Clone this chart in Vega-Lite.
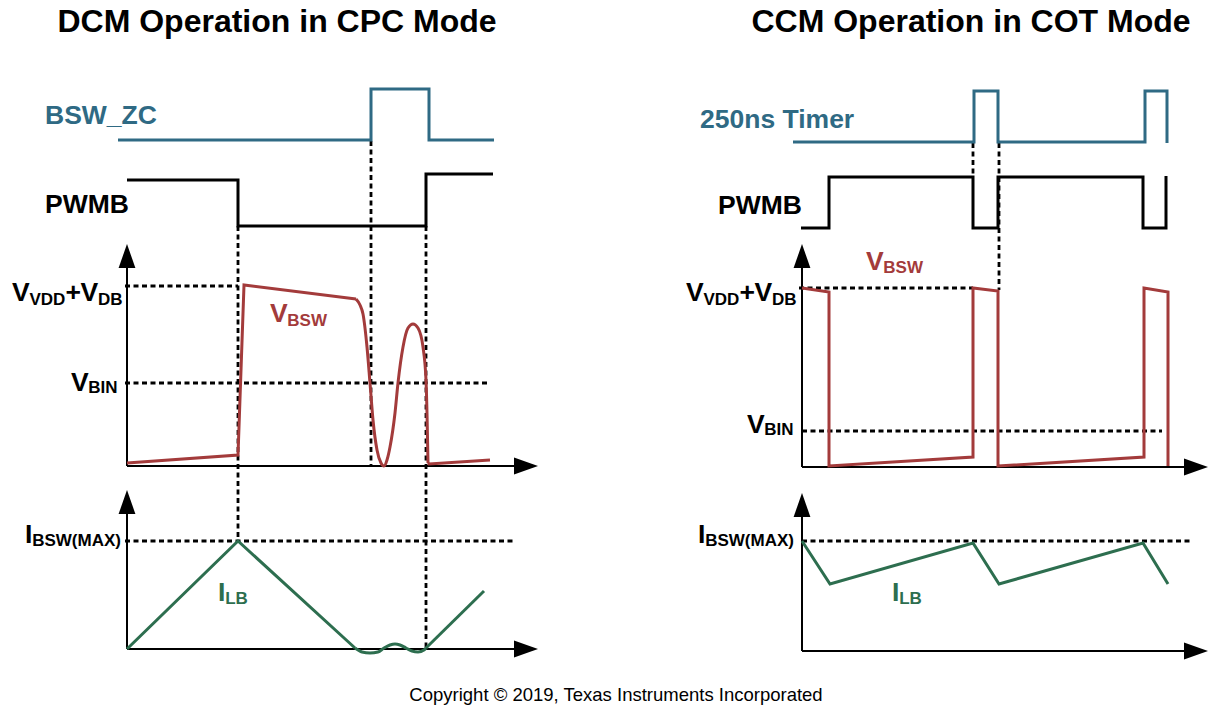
{
  "$schema": "https://vega.github.io/schema/vega-lite/v6.json",
  "width": 1221,
  "height": 706,
  "autosize": {"type": "fit", "contains": "padding"},
  "padding": 0,
  "background": "white",
  "config": {"view": {"stroke": null}},
  "datasets": {
    "wave": [
      {"id": "c1", "k": "clock", "o": 1, "x": 118, "y": 140},
      {"id": "c1", "k": "clock", "o": 2, "x": 371, "y": 140},
      {"id": "c1", "k": "clock", "o": 3, "x": 371, "y": 89},
      {"id": "c1", "k": "clock", "o": 4, "x": 429, "y": 89},
      {"id": "c1", "k": "clock", "o": 5, "x": 429, "y": 140},
      {"id": "c1", "k": "clock", "o": 6, "x": 494, "y": 140},
      {"id": "p1", "k": "pwm", "o": 1, "x": 127, "y": 180},
      {"id": "p1", "k": "pwm", "o": 2, "x": 238, "y": 180},
      {"id": "p1", "k": "pwm", "o": 3, "x": 238, "y": 226},
      {"id": "p1", "k": "pwm", "o": 4, "x": 426, "y": 226},
      {"id": "p1", "k": "pwm", "o": 5, "x": 426, "y": 174},
      {"id": "p1", "k": "pwm", "o": 6, "x": 493, "y": 174},
      {"id": "v1", "k": "vbsw", "o": 1, "x": 127, "y": 463},
      {"id": "v1", "k": "vbsw", "o": 2, "x": 238, "y": 455},
      {"id": "v1", "k": "vbsw", "o": 3, "x": 244, "y": 285},
      {"id": "v1", "k": "vbsw", "o": 4, "x": 356, "y": 299},
      {"id": "v1b", "k": "vbsw", "o": 1, "x": 428, "y": 463},
      {"id": "v1b", "k": "vbsw", "o": 2, "x": 429, "y": 464},
      {"id": "v1b", "k": "vbsw", "o": 3, "x": 490, "y": 460},
      {"id": "g1", "k": "ilb", "o": 1, "x": 127, "y": 649},
      {"id": "g1", "k": "ilb", "o": 2, "x": 238, "y": 541},
      {"id": "g1", "k": "ilb", "o": 3, "x": 355, "y": 648},
      {"id": "g1b", "k": "ilb", "o": 1, "x": 426, "y": 648},
      {"id": "g1b", "k": "ilb", "o": 2, "x": 484, "y": 591},
      {"id": "c2", "k": "clock", "o": 1, "x": 793, "y": 142},
      {"id": "c2", "k": "clock", "o": 2, "x": 974, "y": 142},
      {"id": "c2", "k": "clock", "o": 3, "x": 974, "y": 91},
      {"id": "c2", "k": "clock", "o": 4, "x": 998, "y": 91},
      {"id": "c2", "k": "clock", "o": 5, "x": 998, "y": 142},
      {"id": "c2", "k": "clock", "o": 6, "x": 1145, "y": 142},
      {"id": "c2", "k": "clock", "o": 7, "x": 1145, "y": 91},
      {"id": "c2", "k": "clock", "o": 8, "x": 1167, "y": 91},
      {"id": "c2", "k": "clock", "o": 9, "x": 1167, "y": 143},
      {"id": "p2", "k": "pwm", "o": 1, "x": 801, "y": 228},
      {"id": "p2", "k": "pwm", "o": 2, "x": 829, "y": 228},
      {"id": "p2", "k": "pwm", "o": 3, "x": 829, "y": 177},
      {"id": "p2", "k": "pwm", "o": 4, "x": 973, "y": 177},
      {"id": "p2", "k": "pwm", "o": 5, "x": 973, "y": 228},
      {"id": "p2", "k": "pwm", "o": 6, "x": 998, "y": 228},
      {"id": "p2", "k": "pwm", "o": 7, "x": 998, "y": 177},
      {"id": "p2", "k": "pwm", "o": 8, "x": 1143, "y": 177},
      {"id": "p2", "k": "pwm", "o": 9, "x": 1143, "y": 228},
      {"id": "p2", "k": "pwm", "o": 10, "x": 1166, "y": 228},
      {"id": "p2", "k": "pwm", "o": 11, "x": 1166, "y": 176},
      {"id": "v2", "k": "vbsw", "o": 1, "x": 802, "y": 288},
      {"id": "v2", "k": "vbsw", "o": 2, "x": 829, "y": 292},
      {"id": "v2", "k": "vbsw", "o": 3, "x": 829, "y": 466},
      {"id": "v2", "k": "vbsw", "o": 4, "x": 973, "y": 457},
      {"id": "v2", "k": "vbsw", "o": 5, "x": 973, "y": 288},
      {"id": "v2", "k": "vbsw", "o": 6, "x": 998, "y": 291},
      {"id": "v2", "k": "vbsw", "o": 7, "x": 998, "y": 466},
      {"id": "v2", "k": "vbsw", "o": 8, "x": 1144, "y": 457},
      {"id": "v2", "k": "vbsw", "o": 9, "x": 1144, "y": 288},
      {"id": "v2", "k": "vbsw", "o": 10, "x": 1168, "y": 292},
      {"id": "v2", "k": "vbsw", "o": 11, "x": 1168, "y": 466},
      {"id": "g2", "k": "ilb", "o": 1, "x": 802, "y": 541},
      {"id": "g2", "k": "ilb", "o": 2, "x": 830, "y": 584},
      {"id": "g2", "k": "ilb", "o": 3, "x": 973, "y": 543},
      {"id": "g2", "k": "ilb", "o": 4, "x": 999, "y": 584},
      {"id": "g2", "k": "ilb", "o": 5, "x": 1143, "y": 543},
      {"id": "g2", "k": "ilb", "o": 6, "x": 1168, "y": 584}
    ],
    "curve": [
      {"id": "v1c", "k": "vbsw", "o": 1, "x": 356, "y": 299},
      {"id": "v1c", "k": "vbsw", "o": 2, "x": 360, "y": 305},
      {"id": "v1c", "k": "vbsw", "o": 3, "x": 363, "y": 314},
      {"id": "v1c", "k": "vbsw", "o": 4, "x": 367, "y": 347},
      {"id": "v1c", "k": "vbsw", "o": 5, "x": 370, "y": 383},
      {"id": "v1c", "k": "vbsw", "o": 6, "x": 373, "y": 420},
      {"id": "v1c", "k": "vbsw", "o": 7, "x": 377, "y": 450},
      {"id": "v1c", "k": "vbsw", "o": 8, "x": 381, "y": 463},
      {"id": "v1c", "k": "vbsw", "o": 9, "x": 384, "y": 466},
      {"id": "v1c", "k": "vbsw", "o": 10, "x": 387, "y": 460},
      {"id": "v1c", "k": "vbsw", "o": 11, "x": 390, "y": 447},
      {"id": "v1c", "k": "vbsw", "o": 12, "x": 395, "y": 413},
      {"id": "v1c", "k": "vbsw", "o": 13, "x": 398, "y": 383},
      {"id": "v1c", "k": "vbsw", "o": 14, "x": 403, "y": 347},
      {"id": "v1c", "k": "vbsw", "o": 15, "x": 408, "y": 328},
      {"id": "v1c", "k": "vbsw", "o": 16, "x": 413, "y": 324},
      {"id": "v1c", "k": "vbsw", "o": 17, "x": 418, "y": 328},
      {"id": "v1c", "k": "vbsw", "o": 18, "x": 423, "y": 347},
      {"id": "v1c", "k": "vbsw", "o": 19, "x": 426, "y": 380},
      {"id": "v1c", "k": "vbsw", "o": 20, "x": 427, "y": 413},
      {"id": "v1c", "k": "vbsw", "o": 21, "x": 428, "y": 463},
      {"id": "g1c", "k": "ilb", "o": 1, "x": 355, "y": 648},
      {"id": "g1c", "k": "ilb", "o": 2, "x": 362, "y": 652},
      {"id": "g1c", "k": "ilb", "o": 3, "x": 370, "y": 653},
      {"id": "g1c", "k": "ilb", "o": 4, "x": 378, "y": 652},
      {"id": "g1c", "k": "ilb", "o": 5, "x": 384, "y": 648},
      {"id": "g1c", "k": "ilb", "o": 6, "x": 390, "y": 645},
      {"id": "g1c", "k": "ilb", "o": 7, "x": 395, "y": 644},
      {"id": "g1c", "k": "ilb", "o": 8, "x": 400, "y": 645},
      {"id": "g1c", "k": "ilb", "o": 9, "x": 406, "y": 648},
      {"id": "g1c", "k": "ilb", "o": 10, "x": 412, "y": 651},
      {"id": "g1c", "k": "ilb", "o": 11, "x": 418, "y": 652},
      {"id": "g1c", "k": "ilb", "o": 12, "x": 424, "y": 650},
      {"id": "g1c", "k": "ilb", "o": 13, "x": 426, "y": 648}
    ],
    "axes": [
      {"x": 127, "y": 466, "x2": 127, "y2": 262},
      {"x": 127, "y": 466, "x2": 520, "y2": 466},
      {"x": 127, "y": 649, "x2": 127, "y2": 508},
      {"x": 127, "y": 649, "x2": 520, "y2": 649},
      {"x": 802, "y": 467, "x2": 802, "y2": 262},
      {"x": 802, "y": 467, "x2": 1190, "y2": 467},
      {"x": 802, "y": 651, "x2": 802, "y2": 510},
      {"x": 802, "y": 651, "x2": 1190, "y2": 651}
    ],
    "arrows": [
      {"d": "up", "x": 127, "y": 256},
      {"d": "up", "x": 127, "y": 502},
      {"d": "right", "x": 526, "y": 466},
      {"d": "right", "x": 526, "y": 649},
      {"d": "up", "x": 802, "y": 256},
      {"d": "up", "x": 802, "y": 505},
      {"d": "right", "x": 1196, "y": 467},
      {"d": "right", "x": 1196, "y": 651}
    ],
    "dots": [
      {"x": 125, "y": 286, "x2": 238, "y2": 286},
      {"x": 125, "y": 383, "x2": 487, "y2": 383},
      {"x": 125, "y": 541, "x2": 516, "y2": 541},
      {"x": 238, "y": 226, "x2": 238, "y2": 541},
      {"x": 371, "y": 141, "x2": 371, "y2": 466},
      {"x": 426, "y": 226, "x2": 426, "y2": 648},
      {"x": 799, "y": 288, "x2": 973, "y2": 288},
      {"x": 802, "y": 431, "x2": 1162, "y2": 431},
      {"x": 802, "y": 541, "x2": 1191, "y2": 541},
      {"x": 973, "y": 143, "x2": 973, "y2": 177},
      {"x": 999, "y": 143, "x2": 999, "y2": 290}
    ],
    "texts": [
      {"t": "DCM Operation in CPC Mode", "x": 277, "y": 32, "k": "ink", "role": "title"},
      {"t": "CCM Operation in COT Mode", "x": 971, "y": 32, "k": "ink", "role": "title"},
      {"t": "Copyright © 2019, Texas Instruments Incorporated", "x": 616, "y": 701, "k": "ink", "role": "note"},
      {"t": "BSW_ZC", "x": 45, "y": 124, "k": "clock", "role": "label"},
      {"t": "PWMB", "x": 45, "y": 213, "k": "pwm", "role": "label"},
      {"t": "250ns Timer", "x": 700, "y": 128, "k": "clock", "role": "label"},
      {"t": "PWMB", "x": 718, "y": 214, "k": "pwm", "role": "label"},
      {"t": "V", "x": 12, "y": 301, "k": "ink", "role": "label"},
      {"t": "VDD", "x": 29.5, "y": 305, "k": "ink", "role": "sub"},
      {"t": "+", "x": 65.5, "y": 301, "k": "ink", "role": "label"},
      {"t": "V", "x": 80.5, "y": 301, "k": "ink", "role": "label"},
      {"t": "DB", "x": 98, "y": 305, "k": "ink", "role": "sub"},
      {"t": "V", "x": 71, "y": 391, "k": "ink", "role": "label"},
      {"t": "BIN", "x": 88.3, "y": 393, "k": "ink", "role": "sub"},
      {"t": "I", "x": 25, "y": 543, "k": "ink", "role": "label"},
      {"t": "BSW(MAX)", "x": 32.2, "y": 546, "k": "ink", "role": "sub"},
      {"t": "V", "x": 270, "y": 322, "k": "vbsw", "role": "label"},
      {"t": "BSW", "x": 287.3, "y": 326, "k": "vbsw", "role": "sub"},
      {"t": "I", "x": 218, "y": 601, "k": "ilb", "role": "label"},
      {"t": "LB", "x": 225.2, "y": 604, "k": "ilb", "role": "sub"},
      {"t": "V", "x": 686, "y": 301, "k": "ink", "role": "label"},
      {"t": "VDD", "x": 703.5, "y": 305, "k": "ink", "role": "sub"},
      {"t": "+", "x": 739.5, "y": 301, "k": "ink", "role": "label"},
      {"t": "V", "x": 754.5, "y": 301, "k": "ink", "role": "label"},
      {"t": "DB", "x": 772, "y": 305, "k": "ink", "role": "sub"},
      {"t": "V", "x": 747, "y": 433, "k": "ink", "role": "label"},
      {"t": "BIN", "x": 764.3, "y": 435, "k": "ink", "role": "sub"},
      {"t": "I", "x": 698, "y": 543, "k": "ink", "role": "label"},
      {"t": "BSW(MAX)", "x": 705.2, "y": 546, "k": "ink", "role": "sub"},
      {"t": "V", "x": 866, "y": 270, "k": "vbsw", "role": "label"},
      {"t": "BSW", "x": 883.3, "y": 273, "k": "vbsw", "role": "sub"},
      {"t": "I", "x": 892, "y": 601, "k": "ilb", "role": "label"},
      {"t": "LB", "x": 899.2, "y": 604, "k": "ilb", "role": "sub"}
    ]
  },
  "layer": [
    {
      "data": {"name": "dots"},
      "mark": {"type": "rule", "strokeWidth": 2.8, "strokeDash": [5, 3.5], "color": "#000000"},
      "encoding": {
        "x": {"field": "x", "type": "quantitative", "scale": {"domain": [0, 1221], "nice": false, "zero": false}, "axis": null},
        "y": {"field": "y", "type": "quantitative", "scale": {"domain": [0, 706], "nice": false, "zero": false, "reverse": true}, "axis": null},
        "x2": {"field": "x2"},
        "y2": {"field": "y2"}
      }
    },
    {
      "data": {"name": "axes"},
      "mark": {"type": "rule", "strokeWidth": 2, "color": "#000000"},
      "encoding": {
        "x": {"field": "x", "type": "quantitative", "scale": {"domain": [0, 1221], "nice": false, "zero": false}, "axis": null},
        "y": {"field": "y", "type": "quantitative", "scale": {"domain": [0, 706], "nice": false, "zero": false, "reverse": true}, "axis": null},
        "x2": {"field": "x2"},
        "y2": {"field": "y2"}
      }
    },
    {
      "data": {"name": "arrows"},
      "mark": {"type": "point", "filled": true, "opacity": 1, "size": 576, "color": "#000000", "strokeWidth": 0},
      "encoding": {
        "x": {"field": "x", "type": "quantitative", "scale": {"domain": [0, 1221], "nice": false, "zero": false}, "axis": null},
        "y": {"field": "y", "type": "quantitative", "scale": {"domain": [0, 706], "nice": false, "zero": false, "reverse": true}, "axis": null},
        "shape": {"field": "d", "type": "nominal", "scale": {"domain": ["up", "right"], "range": ["M0,-1L0.7,1L-0.7,1Z", "M1,0L-1,-0.7L-1,0.7Z"]}, "legend": null}
      }
    },
    {
      "data": {"name": "wave"},
      "mark": {"type": "line", "strokeWidth": 3, "strokeJoin": "miter", "strokeCap": "butt"},
      "encoding": {
        "x": {"field": "x", "type": "quantitative", "scale": {"domain": [0, 1221], "nice": false, "zero": false}, "axis": null},
        "y": {"field": "y", "type": "quantitative", "scale": {"domain": [0, 706], "nice": false, "zero": false, "reverse": true}, "axis": null},
        "detail": {"field": "id", "type": "nominal"},
        "order": {"field": "o", "type": "quantitative"},
        "color": {"field": "k", "type": "nominal", "scale": {"domain": ["clock", "pwm", "vbsw", "ilb", "ink"], "range": ["#2f6a84", "#000000", "#a33b3b", "#2d6e4f", "#000000"]}, "legend": null}
      }
    },
    {
      "data": {"name": "curve"},
      "mark": {"type": "line", "strokeWidth": 3, "interpolate": "monotone"},
      "encoding": {
        "x": {"field": "x", "type": "quantitative", "scale": {"domain": [0, 1221], "nice": false, "zero": false}, "axis": null},
        "y": {"field": "y", "type": "quantitative", "scale": {"domain": [0, 706], "nice": false, "zero": false, "reverse": true}, "axis": null},
        "detail": {"field": "id", "type": "nominal"},
        "order": {"field": "o", "type": "quantitative"},
        "color": {"field": "k", "type": "nominal", "scale": {"domain": ["clock", "pwm", "vbsw", "ilb", "ink"], "range": ["#2f6a84", "#000000", "#a33b3b", "#2d6e4f", "#000000"]}, "legend": null}
      }
    },
    {
      "data": {"name": "texts"},
      "transform": [{"filter": "datum.role == 'title'"}],
      "mark": {"type": "text", "font": "Liberation Sans", "fontWeight": "bold", "fontSize": 32, "align": "center", "baseline": "alphabetic"},
      "encoding": {
        "x": {"field": "x", "type": "quantitative", "scale": {"domain": [0, 1221], "nice": false, "zero": false}, "axis": null},
        "y": {"field": "y", "type": "quantitative", "scale": {"domain": [0, 706], "nice": false, "zero": false, "reverse": true}, "axis": null},
        "text": {"field": "t"},
        "color": {"field": "k", "type": "nominal", "scale": {"domain": ["clock", "pwm", "vbsw", "ilb", "ink"], "range": ["#2f6a84", "#000000", "#a33b3b", "#2d6e4f", "#000000"]}, "legend": null}
      }
    },
    {
      "data": {"name": "texts"},
      "transform": [{"filter": "datum.role == 'note'"}],
      "mark": {"type": "text", "font": "Liberation Sans", "fontSize": 18.5, "align": "center", "baseline": "alphabetic"},
      "encoding": {
        "x": {"field": "x", "type": "quantitative", "scale": {"domain": [0, 1221], "nice": false, "zero": false}, "axis": null},
        "y": {"field": "y", "type": "quantitative", "scale": {"domain": [0, 706], "nice": false, "zero": false, "reverse": true}, "axis": null},
        "text": {"field": "t"},
        "color": {"field": "k", "type": "nominal", "scale": {"domain": ["clock", "pwm", "vbsw", "ilb", "ink"], "range": ["#2f6a84", "#000000", "#a33b3b", "#2d6e4f", "#000000"]}, "legend": null}
      }
    },
    {
      "data": {"name": "texts"},
      "transform": [{"filter": "datum.role == 'label'"}],
      "mark": {"type": "text", "font": "Liberation Sans", "fontWeight": "bold", "fontSize": 26.5, "align": "left", "baseline": "alphabetic"},
      "encoding": {
        "x": {"field": "x", "type": "quantitative", "scale": {"domain": [0, 1221], "nice": false, "zero": false}, "axis": null},
        "y": {"field": "y", "type": "quantitative", "scale": {"domain": [0, 706], "nice": false, "zero": false, "reverse": true}, "axis": null},
        "text": {"field": "t"},
        "color": {"field": "k", "type": "nominal", "scale": {"domain": ["clock", "pwm", "vbsw", "ilb", "ink"], "range": ["#2f6a84", "#000000", "#a33b3b", "#2d6e4f", "#000000"]}, "legend": null}
      }
    },
    {
      "data": {"name": "texts"},
      "transform": [{"filter": "datum.role == 'sub'"}],
      "mark": {"type": "text", "font": "Liberation Sans", "fontWeight": "bold", "fontSize": 17, "align": "left", "baseline": "alphabetic"},
      "encoding": {
        "x": {"field": "x", "type": "quantitative", "scale": {"domain": [0, 1221], "nice": false, "zero": false}, "axis": null},
        "y": {"field": "y", "type": "quantitative", "scale": {"domain": [0, 706], "nice": false, "zero": false, "reverse": true}, "axis": null},
        "text": {"field": "t"},
        "color": {"field": "k", "type": "nominal", "scale": {"domain": ["clock", "pwm", "vbsw", "ilb", "ink"], "range": ["#2f6a84", "#000000", "#a33b3b", "#2d6e4f", "#000000"]}, "legend": null}
      }
    }
  ]
}
